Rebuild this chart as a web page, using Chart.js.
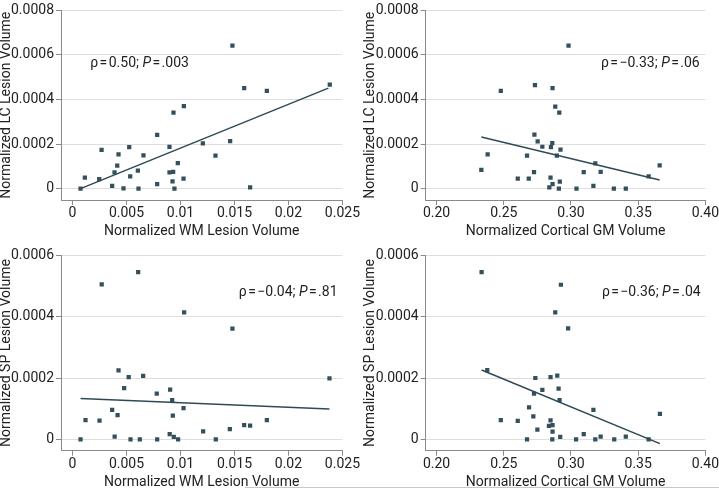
<!DOCTYPE html>
<html lang="en">
<head>
    <meta charset="UTF-8">
    <title>Lesion Volume Correlations</title>
    <script src="https://cdn.jsdelivr.net/npm/chart.js"></script>
    <style>
        html, body {
            margin: 0;
            padding: 0;
            background: #fff;
            overflow: hidden;
        }
        .panel {
            position: absolute;
        }
        .edge {
            position: absolute;
            left: 245px;
            top: 487px;
            width: 474px;
            height: 1px;
            background: #c8c8c8;
        }
    </style>
</head>
<body>
    <div class="panel" style="left:0;top:0;width:360px;height:244px"><canvas id="c1"></canvas></div>
    <div class="panel" style="left:360px;top:0;width:359px;height:244px"><canvas id="c2"></canvas></div>
    <div class="panel" style="left:0;top:240px;width:360px;height:256px"><canvas id="c3"></canvas></div>
    <div class="panel" style="left:360px;top:240px;width:359px;height:256px"><canvas id="c4"></canvas></div>
    <div class="edge"></div>

    <script>
        // tick labels
        const wmTicks = [0, 0.005, 0.01, 0.015, 0.02, 0.025];
        const gmTicks = [0.20, 0.25, 0.30, 0.35, 0.40];
        const lcTicks = [0, 0.0002, 0.0004, 0.0006, 0.0008];
        const spTicks = [0, 0.0002, 0.0004, 0.0006];

        // panel A: WM lesion vs LC lesion
        const wmA = [0.00074, 0.00114, 0.00247, 0.00269, 0.00367, 0.00389, 0.00414, 0.00426, 0.00472, 0.00525, 0.00534,
            0.00605, 0.00611, 0.00657, 0.00784, 0.00784, 0.00898, 0.00898, 0.00932, 0.00926, 0.00935, 0.00944,
            0.00975, 0.01028, 0.01031, 0.01207, 0.01324, 0.0146, 0.01481, 0.0159, 0.01645, 0.018, 0.02383];
        const lcA = [0, 0.000049, 0.000043, 0.000174, 0.000012, 0.000073, 0.000103, 0.000154, 0.000001, 0.000186, 0.000055,
            0.000081, 0, 0.000149, 0.000241, 0.00002, 0.000187, 0.000073, 0.000075, 0.000033, 0.000341, 0,
            0.000114, 0.000045, 0.00037, 0.000203, 0.000148, 0.000213, 0.000642, 0.000451, 0.000006, 0.000439, 0.000467];
        const fitA = [[0.00074, 0], [0.0237, 0.000451]];

        // panel B: cortical GM vs LC lesion
        const gmB = [0.2333, 0.238, 0.2478, 0.2604, 0.2673, 0.2686, 0.2725, 0.2728, 0.2732, 0.2752, 0.2787,
            0.2839, 0.2848, 0.2851, 0.2861, 0.2863, 0.2863, 0.2883, 0.2895, 0.291, 0.2913, 0.2917,
            0.2922, 0.2982, 0.3041, 0.3095, 0.3167, 0.3181, 0.3221, 0.3319, 0.3408, 0.3578, 0.366];
        const lcB = [0.000084, 0.000154, 0.000439, 0.000045, 0.000148, 0.000045, 0.000074, 0.000242, 0.000465, 0.000212, 0.000188,
            0.000006, 0.000049, 0.000186, 0.000204, 0.00002, 0.000451, 0.000368, 0.000148, 0, 0.000341, 0.000032,
            0.000175, 0.000642, 0, 0.000074, 0.000012, 0.000113, 0.000075, 0, 0, 0.000055, 0.000104];
        const fitB = [[0.2333, 0.000232], [0.366, 0.000039]];

        // panel C: WM lesion vs SP lesion
        const wmC = [0.00074, 0.0012, 0.0025, 0.0027, 0.00367, 0.0039, 0.00417, 0.00426, 0.00478, 0.0052, 0.00537,
            0.00608, 0.00623, 0.00654, 0.0078, 0.00784, 0.00904, 0.009, 0.00923, 0.00929, 0.00938, 0.00978,
            0.01028, 0.01034, 0.0121, 0.01327, 0.01457, 0.01481, 0.0159, 0.01645, 0.018, 0.0238];
        const spC = [0, 0.000063, 0.000061, 0.000505, 0.000096, 0.000009, 0.000079, 0.000225, 0.000167, 0.000203, 0,
            0.000545, 0, 0.000207, 0.000149, 0, 0.000162, 0.000017, 0.000128, 0.000077, 0.000008, 0,
            0.000102, 0.000414, 0.000026, 0, 0.000033, 0.000361, 0.000046, 0.000045, 0.000063, 0.000199];
        const fitC = [[0.00074, 0.000133], [0.0238, 0.000099]];

        // panel D: cortical GM vs SP lesion
        const gmD = [0.2335, 0.2377, 0.2478, 0.2604, 0.2673, 0.2688, 0.272, 0.2725, 0.2735, 0.275, 0.2787,
            0.2836, 0.2848, 0.2848, 0.2863, 0.2863, 0.2861, 0.2883, 0.2898, 0.2908, 0.2915, 0.292,
            0.2925, 0.2979, 0.3038, 0.3095, 0.3167, 0.3181, 0.3221, 0.3322, 0.3408, 0.3578, 0.3662];
        const spD = [0.000545, 0.000226, 0.000063, 0.00006, 0, 0.000104, 0.000075, 0.000149, 0.0002, 0.000032, 0.000161,
            0.000044, 0.000062, 0.000203, 0.000046, 0.000025, 0, 0.000414, 0.000208, 0.000165, 0.000128, 0.000008,
            0.000504, 0.000362, 0, 0.000017, 0.000096, 0, 0.000009, 0, 0.000009, 0, 0.000083];
        const fitD = [[0.2335, 0.000226], [0.3662, -0.000014]];

        const markColor = '#34505c';
        const lineColor = '#2e4a56';
        const textColor = '#222';
        const fontFamily = 'Roboto, "Noto Sans", Arial, sans-serif';
        const hair = '\u200A';

        function toPoints(xs, ys) {
            return xs.map((x, i) => ({ x: x, y: ys[i] }));
        }

        function fmtWM(v) { return String(parseFloat(v.toFixed(4))); }
        function fmtGM(v) { return v.toFixed(2); }
        function fmtLes(v) { return String(parseFloat(v.toFixed(5))); }

        // draws "ρ=...; P=..." with the P in italics
        const statsPlugin = {
            id: 'stats',
            afterDatasetsDraw(chart, args, opts) {
                const c = chart.ctx;
                let x = chart.scales.x.getPixelForValue(opts.x);
                const y = chart.scales.y.getPixelForValue(opts.y);
                const parts = [
                    ['ρ' + hair + '=' + hair + opts.rho + '; ', 'normal'],
                    ['P', 'italic'],
                    [hair + '=' + hair + opts.p, 'normal']
                ];
                c.save();
                c.fillStyle = textColor;
                c.textBaseline = 'middle';
                c.textAlign = 'left';
                parts.forEach(([t, style]) => {
                    c.font = style + ' 14px ' + fontFamily;
                    c.fillText(t, x, y);
                    x += c.measureText(t).width;
                });
                c.restore();
            }
        };

        function makeChart(id, cfg) {
            const ctx = document.getElementById(id).getContext('2d');
            return new Chart(ctx, {
                type: 'scatter',
                data: {
                    datasets: [
                        {
                            type: 'line',
                            data: cfg.fit.map(p => ({ x: p[0], y: p[1] })),
                            borderColor: lineColor,
                            borderWidth: 1.5,
                            pointRadius: 0,
                            fill: false
                        },
                        {
                            data: toPoints(cfg.xs, cfg.ys),
                            backgroundColor: markColor,
                            borderWidth: 0,
                            pointStyle: 'rect',
                            pointRadius: 3
                        }
                    ]
                },
                options: {
                    responsive: true,
                    maintainAspectRatio: false,
                    animation: false,
                    layout: { padding: { top: cfg.top, right: cfg.right, left: 0, bottom: 0 } },
                    plugins: {
                        legend: { display: false },
                        tooltip: { enabled: false },
                        stats: cfg.stats
                    },
                    scales: {
                        x: {
                            type: 'linear',
                            min: cfg.xMin,
                            max: cfg.xMax,
                            afterBuildTicks: s => { s.ticks = cfg.xTicks.map(v => ({ value: v })); },
                            afterFit: s => { s.height = cfg.xH; },
                            grid: { drawOnChartArea: false, drawTicks: true, tickLength: 5, tickColor: '#8a8a8a' },
                            border: { color: '#8a8a8a', width: 1 },
                            ticks: {
                                padding: 0,
                                color: textColor,
                                font: { family: fontFamily, size: 14 },
                                maxRotation: 0,
                                autoSkip: false,
                                callback: v => cfg.xFmt(v)
                            },
                            title: {
                                display: true,
                                text: cfg.xTitle,
                                color: textColor,
                                font: { family: fontFamily, size: 14 },
                                padding: { top: 0, bottom: cfg.xTitlePad }
                            }
                        },
                        y: {
                            type: 'linear',
                            min: cfg.yMin,
                            max: cfg.yMax,
                            afterBuildTicks: s => { s.ticks = cfg.yTicks.map(v => ({ value: v })); },
                            afterFit: s => { s.width = cfg.yW; },
                            grid: { color: '#dedede', lineWidth: 1, drawTicks: true, tickLength: 5, tickColor: '#8a8a8a' },
                            border: { color: '#8a8a8a', width: 1 },
                            ticks: {
                                padding: 2,
                                color: textColor,
                                font: { family: fontFamily, size: 14 },
                                autoSkip: false,
                                callback: v => fmtLes(v)
                            },
                            title: {
                                display: true,
                                text: cfg.yTitle,
                                color: textColor,
                                font: { family: fontFamily, size: 14, lineHeight: 1 },
                                padding: { top: cfg.yTitlePad, bottom: 0 }
                            }
                        }
                    }
                },
                plugins: [statsPlugin]
            });
        }

        makeChart('c1', {
            xs: wmA, ys: lcA, fit: fitA,
            xMin: -0.00107, xMax: 0.025, xTicks: wmTicks, xFmt: fmtWM,
            yMin: -0.000051, yMax: 0.0008, yTicks: lcTicks,
            xTitle: 'Normalized WM Lesion Volume', yTitle: 'Normalized LC Lesion Volume',
            top: 5, right: 17, yW: 61, xH: 44, xTitlePad: 4.6, yTitlePad: -0.5,
            stats: { x: 0.00164, y: 0.00056, rho: '0.50', p: '.003' }
        });

        makeChart('c2', {
            xs: gmB, ys: lcB, fit: fitB,
            xMin: 0.1919, xMax: 0.4, xTicks: gmTicks, xFmt: fmtGM,
            yMin: -0.000051, yMax: 0.0008, yTicks: lcTicks,
            xTitle: 'Normalized Cortical GM Volume', yTitle: 'Normalized LC Lesion Volume',
            top: 5, right: 11.3, yW: 65.7, xH: 44, xTitlePad: 4.6, yTitlePad: 3.7,
            stats: { x: 0.3223, y: 0.00056, rho: '−0.33', p: '.06' }
        });

        makeChart('c3', {
            xs: wmC, ys: spC, fit: fitC,
            xMin: -0.00107, xMax: 0.025, xTicks: wmTicks, xFmt: fmtWM,
            yMin: -0.000037, yMax: 0.0006, yTicks: spTicks,
            xTitle: 'Normalized WM Lesion Volume', yTitle: 'Normalized SP Lesion Volume',
            top: 15.3, right: 17, yW: 61, xH: 45.3, xTitlePad: 5.6, yTitlePad: -0.5,
            stats: { x: 0.0154, y: 0.00048, rho: '−0.04', p: '.81' }
        });

        makeChart('c4', {
            xs: gmD, ys: spD, fit: fitD,
            xMin: 0.1919, xMax: 0.4, xTicks: gmTicks, xFmt: fmtGM,
            yMin: -0.000037, yMax: 0.0006, yTicks: spTicks,
            xTitle: 'Normalized Cortical GM Volume', yTitle: 'Normalized SP Lesion Volume',
            top: 15.3, right: 11.3, yW: 65.7, xH: 45.3, xTitlePad: 5.6, yTitlePad: 3.7,
            stats: { x: 0.323, y: 0.00048, rho: '−0.36', p: '.04' }
        });
    </script>
</body>
</html>
